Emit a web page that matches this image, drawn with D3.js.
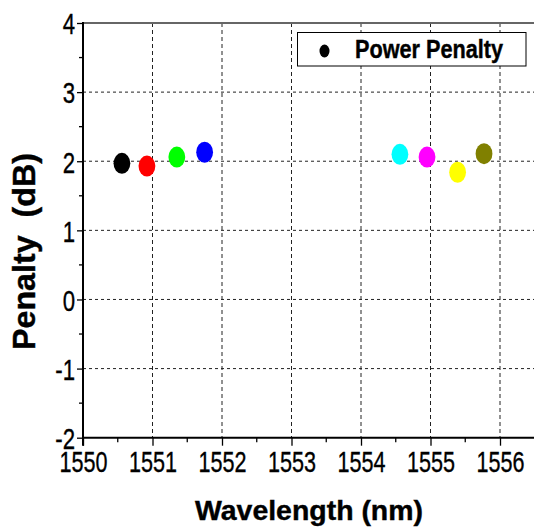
<!DOCTYPE html>
<html>
<head>
<meta charset="utf-8">
<script src="https://cdn.jsdelivr.net/npm/d3@7"></script>
<style>
  html, body { margin: 0; padding: 0; background: #fff; }
  svg { display: block; }
  text { font-family: "Liberation Sans", Arial, sans-serif; fill: #000; }
</style>
</head>
<body>
<svg id="chart" width="534" height="531"></svg>
<script>
// ---- data ----
const wavelengths = [1550.56, 1550.92, 1551.35, 1551.75, 1554.56, 1554.95, 1555.39, 1555.77];
const penalties   = [1.97, 1.93, 2.06, 2.13, 2.10, 2.06, 1.84, 2.11];
const pointColors = ["#000000", "#ff0000", "#00ff00", "#0000ff", "#00ffff", "#ff00ff", "#ffff00", "#808000"];
const xTicks = [1550, 1551, 1552, 1553, 1554, 1555, 1556];
const yTicks = [-2, -1, 0, 1, 2, 3, 4];
const xMinorTicks = [1550.5, 1551.5, 1552.5, 1553.5, 1554.5, 1555.5, 1556.5];
const yMinorTicks = [-1.5, -0.5, 0.5, 1.5, 2.5, 3.5];
const legendLabel = "Power Penalty";
const xTitle = "Wavelength (nm)";
const yTitle = "Penalty\u00a0\u00a0(dB)";

// ---- layout ----
const svg = d3.select("#chart");
const L = 83, R = 534.75, T = 23, B = 437.7;
const x = d3.scaleLinear().domain([1550, 1556.5]).range([L, R]);
const y = d3.scaleLinear().domain([-2, 4]).range([B, T]);

function condense(sel, factor) {
  sel.each(function() {
    const w = this.getComputedTextLength();
    d3.select(this).attr("textLength", w * factor).attr("lengthAdjust", "spacingAndGlyphs");
  });
}

// grid lines
const grid = svg.append("g");
grid.selectAll("line.vg").data(xTicks.filter(d => d > 1550)).join("line")
  .attr("x1", d => x(d)).attr("x2", d => x(d)).attr("y1", T).attr("y2", B)
  .attr("stroke", "#222").attr("stroke-width", 1).attr("stroke-dasharray", "4,3");
grid.selectAll("line.hg").data(yTicks.filter(d => d > -2 && d < 4)).join("line")
  .attr("x1", L).attr("x2", 534).attr("y1", d => y(d)).attr("y2", d => y(d))
  .attr("stroke", "#222").attr("stroke-width", 1).attr("stroke-dasharray", "3,3");

// top border
svg.append("line").attr("x1", L).attr("x2", 534).attr("y1", y(4)).attr("y2", y(4))
  .attr("stroke", "#666").attr("stroke-width", 2);

// axes
const fmt = d => String(d);
const xAxis = d3.axisBottom(x).tickValues(xTicks).tickSize(8).tickPadding(6).tickFormat(fmt);
const gx = svg.append("g").attr("transform", `translate(0,${B})`).call(xAxis);
gx.select(".domain").remove();
gx.selectAll(".tick line").attr("stroke", "#000").attr("stroke-width", 1.3);
gx.selectAll(".tick text").attr("font-size", 30).attr("dy", "0.75em").attr("y", 12)
  .attr("stroke", "#000").attr("stroke-width", 0.35);
condense(gx.selectAll(".tick text"), 0.72);
gx.selectAll("line.minor").data(xMinorTicks).join("line")
  .attr("x1", d => x(d)).attr("x2", d => x(d)).attr("y1", 0).attr("y2", 4.5)
  .attr("stroke", "#000").attr("stroke-width", 1.3);
gx.append("line").attr("x1", L - 1).attr("x2", 534).attr("y1", 0).attr("y2", 0)
  .attr("stroke", "#000").attr("stroke-width", 2);

const yAxis = d3.axisLeft(y).tickValues(yTicks).tickSize(6).tickPadding(4).tickFormat(fmt);
const gy = svg.append("g").attr("transform", `translate(${L},0)`).call(yAxis);
gy.select(".domain").remove();
gy.selectAll(".tick line").attr("stroke", "#000").attr("stroke-width", 1.3);
gy.selectAll(".tick text").attr("font-size", 30).attr("dy", "0.36em").attr("x", -8)
  .attr("stroke", "#000").attr("stroke-width", 0.35);
condense(gy.selectAll(".tick text"), 0.74);
gy.selectAll("line.minor").data(yMinorTicks).join("line")
  .attr("x1", -4).attr("x2", 0).attr("y1", d => y(d)).attr("y2", d => y(d))
  .attr("stroke", "#000").attr("stroke-width", 1.3);
gy.append("line").attr("x1", 0).attr("x2", 0).attr("y1", T - 1).attr("y2", B + 8)
  .attr("stroke", "#000").attr("stroke-width", 2);

// points
svg.append("g").selectAll("ellipse").data(wavelengths).join("ellipse")
  .attr("cx", d => x(d)).attr("cy", (d, i) => y(penalties[i]))
  .attr("rx", 8.4).attr("ry", 10.5)
  .attr("fill", (d, i) => pointColors[i]);

// legend
const lg = svg.append("g");
lg.append("rect").attr("x", 297.5).attr("y", 32.5).attr("width", 228.5).attr("height", 33.5)
  .attr("fill", "#fff").attr("stroke", "#000").attr("stroke-width", 1);
lg.append("ellipse").attr("cx", 324.5).attr("cy", 51).attr("rx", 5).attr("ry", 6.5).attr("fill", "#000");
lg.append("text").attr("x", 355).attr("y", 58).attr("font-size", 25).attr("font-weight", "bold")
  .attr("stroke", "#000").attr("stroke-width", 0.4)
  .attr("textLength", 148).attr("lengthAdjust", "spacingAndGlyphs").text(legendLabel);

// titles
svg.append("text").attr("x", 309).attr("y", 520).attr("text-anchor", "middle")
  .attr("font-size", 27).attr("font-weight", "bold")
  .attr("stroke", "#000").attr("stroke-width", 0.4)
  .attr("textLength", 228).attr("lengthAdjust", "spacingAndGlyphs").text(xTitle);
svg.append("text").attr("transform", "translate(35,251.5) rotate(-90)").attr("text-anchor", "middle")
  .attr("font-size", 31.5).attr("font-weight", "bold")
  .attr("stroke", "#000").attr("stroke-width", 0.4)
  .attr("textLength", 197).attr("lengthAdjust", "spacingAndGlyphs").text(yTitle);
</script>
</body>
</html>
